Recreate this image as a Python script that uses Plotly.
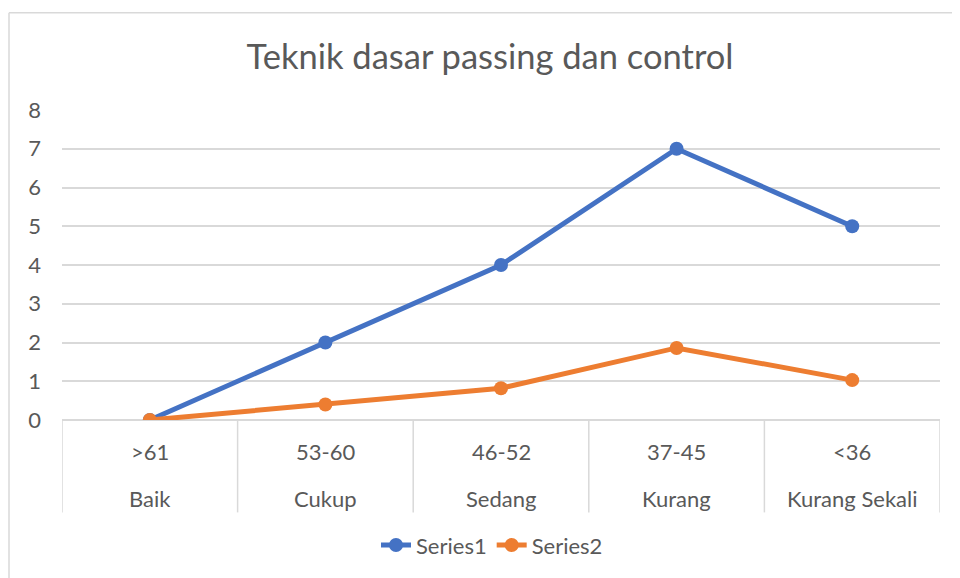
import plotly.graph_objects as go

grades = ["Baik", "Cukup", "Sedang", "Kurang", "Kurang Sekali"]
ranges = [">61", "53-60", "46-52", "37-45", "<36"]
series1 = [0, 2, 4, 7, 5]
series2 = [0, 0.4, 0.82, 1.86, 1.03]
y_ticks = [0, 1, 2, 3, 4, 5, 6, 7, 8]

FONT = "Lato"
TXT = "#595959"
GRID = "#d9d9d9"

OFF = 8  # page body margin offset
W, H = 960 - OFF, 578 - OFF
L, R, T, B = 62 - OFF, 20, 110 - OFF, 156
plot_w = W - L - R
plot_h = H - T - B

fig = go.Figure()
fig.add_trace(go.Scatter(x=list(range(len(grades))), y=series1, name="Series1",
                         mode="lines+markers",
                         line=dict(color="#4472C4", width=5),
                         marker=dict(size=14, color="#4472C4")))
fig.add_trace(go.Scatter(x=list(range(len(grades))), y=series2, name="Series2",
                         mode="lines+markers",
                         line=dict(color="#ED7D31", width=5),
                         marker=dict(size=14, color="#ED7D31")))

def py(screen_y):
    return (H - B - (screen_y - OFF)) / plot_h

def px(screen_x):
    return (screen_x - OFF - L) / plot_w

# category labels (two levels)
for i, (g, r) in enumerate(zip(grades, ranges)):
    fig.add_annotation(x=i, y=0, xref="x", yref="paper", text=r, showarrow=False,
                       yanchor="middle", yshift=-31,
                       font=dict(family=FONT, size=22, color=TXT))
    fig.add_annotation(x=i, y=0, xref="x", yref="paper", text=g, showarrow=False,
                       yanchor="middle", yshift=-78,
                       font=dict(family=FONT, size=22, color=TXT))

# dividers
for i in range(len(grades) + 1):
    fig.add_shape(type="line", xref="x", yref="paper", x0=i - 0.5, x1=i - 0.5,
                  y0=0, y1=-93 / plot_h, line=dict(color=GRID, width=1.5))

# chart border (left and top)
fig.add_shape(type="line", xref="paper", yref="paper",
              x0=px(9), x1=px(9), y0=py(12), y1=py(600),
              line=dict(color=GRID, width=1.5))
fig.add_shape(type="line", xref="paper", yref="paper",
              x0=px(9), x1=px(980), y0=py(12), y1=py(12),
              line=dict(color=GRID, width=1.5))

fig.update_layout(
    width=W, height=H,
    margin=dict(l=L, r=R, t=T, b=B),
    paper_bgcolor="white", plot_bgcolor="white",
    title=dict(text="Teknik dasar passing dan control", x=(490 - OFF) / W, xanchor="center",
               y=1 - (57 - OFF) / H, yanchor="middle",
               font=dict(family=FONT, size=34.5, color=TXT)),
    xaxis=dict(range=[-0.5, len(grades) - 0.5], showticklabels=False, showgrid=False,
               zeroline=False, showline=False, fixedrange=True),
    yaxis=dict(range=[0, 8], tickvals=y_ticks, showgrid=True, gridcolor=GRID, gridwidth=1.5,
               zeroline=True, zerolinecolor=GRID, zerolinewidth=1.5, showline=False,
               ticks="", ticklabelstandoff=20,
               tickfont=dict(family=FONT, size=22, color=TXT)),
    legend=dict(orientation="h", x=px(492), xanchor="center",
                y=py(548), yanchor="middle",
                font=dict(family=FONT, size=22, color=TXT)),
    showlegend=True,
)

fig.write_html("out.html")
